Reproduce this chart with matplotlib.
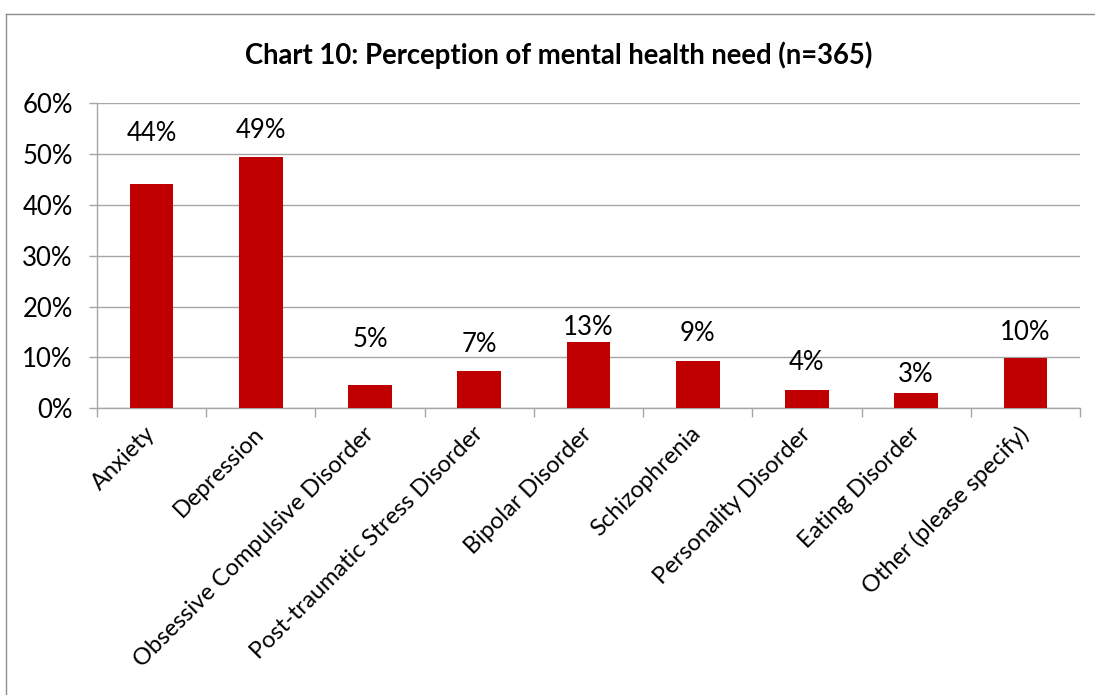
import matplotlib
matplotlib.use("Agg")
import matplotlib.pyplot as plt
from matplotlib.lines import Line2D
import numpy as np

# Share of respondents perceiving each mental health need (%)
categories = [
    "Anxiety",
    "Depression",
    "Obsessive Compulsive Disorder",
    "Post-traumatic Stress Disorder",
    "Bipolar Disorder",
    "Schizophrenia",
    "Personality Disorder",
    "Eating Disorder",
    "Other (please specify)",
]
values = [44.1, 49.4, 4.6, 7.3, 13.1, 9.3, 3.6, 3.0, 9.8]
y_ticks = [0, 10, 20, 30, 40, 50, 60]
title = "Chart 10: Perception of mental health need (n=365)"

# vertical offset (points) of each value label above its bar
label_offsets = [36.5, 19.5, 32.5, 19.5, 10.0, 19.5, 19.5, 13.0, 18.7]

plt.rcParams["font.family"] = ["Lato", "DejaVu Sans"]

BAR = "#C00000"
GRID = "#A6A6A6"
FS = 18.5

fig = plt.figure(figsize=(10.95, 6.95), dpi=100)
W, H = 1095, 695

# chart-area frame (left and top edges)
fx, fy = 5.5 / W, 1 - 13.5 / H
fig.add_artist(Line2D([fx, fx], [-0.01, fy], transform=fig.transFigure,
                      color="#8C8C8C", linewidth=1.0))
fig.add_artist(Line2D([fx, 1.01], [fy, fy], transform=fig.transFigure,
                      color="#8C8C8C", linewidth=1.0))

ax = fig.add_axes([97 / W, (H - 408.3) / H, (1080 - 97) / W, (408.3 - 103.3) / H])

x = np.arange(len(categories))
ax.bar(x, values, width=0.40, color=BAR, zorder=3)

for xi, v, off in zip(x, values, label_offsets):
    ax.annotate(f"{v:.0f}%", (xi, v), xytext=(0, off), textcoords="offset points",
                ha="center", va="center", fontsize=FS, color="#000000")

ax.set_xlim(-0.5, len(categories) - 0.5)
ax.set_ylim(0, 60)
ax.set_yticks(y_ticks)
ax.set_yticklabels([f"{t}%" for t in y_ticks], fontsize=FS)
ax.yaxis.grid(True, color=GRID, linewidth=1.0, zorder=0)
ax.set_axisbelow(True)

# category boundaries carry the tick marks, labels sit at the centres
ax.set_xticks(np.arange(-0.5, len(categories), 1.0))
ax.set_xticklabels([])
ax.set_xticks(x, minor=True)
ax.set_xticklabels(categories, minor=True, rotation=45, ha="right",
                   va="center", rotation_mode="anchor", fontsize=17)
ax.tick_params(axis="x", which="major", length=6.5, width=1.0, color=GRID, direction="out")
ax.tick_params(axis="x", which="minor", length=0, pad=16)
ax.tick_params(axis="y", length=5.5, width=1.0, color=GRID, direction="out", pad=12)

for side in ("top", "right"):
    ax.spines[side].set_visible(False)
for side in ("left", "bottom"):
    ax.spines[side].set_color(GRID)
    ax.spines[side].set_linewidth(1.0)

fig.text(559 / W, 1 - 55 / H, title, ha="center", va="center",
         fontsize=19.8, fontweight="bold")

fig.savefig("out.png", dpi=100)
